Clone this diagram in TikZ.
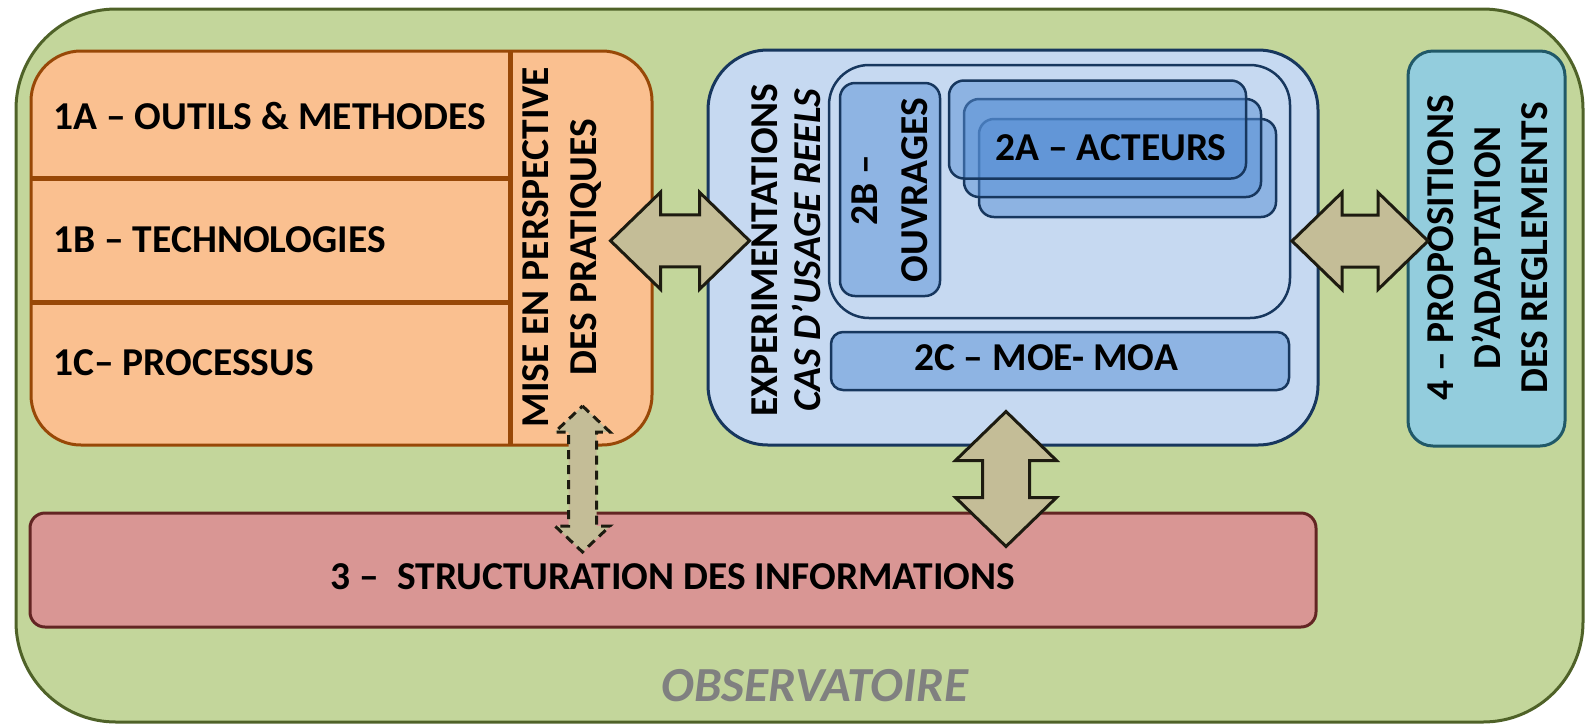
\documentclass[tikz,border=0pt]{standalone}
\usepackage{fontspec}
\setmainfont{Carlito}
\definecolor{obsg}{HTML}{C3D69B}
\definecolor{obsd}{HTML}{4F6228}
\definecolor{prat}{HTML}{FAC090}
\definecolor{pratd}{HTML}{984807}
\definecolor{expl}{HTML}{C6D9F1}
\definecolor{expd}{HTML}{17375E}
\definecolor{subb}{HTML}{8EB4E3}
\definecolor{actb}{HTML}{558ED5}
\definecolor{prop}{HTML}{93CDDD}
\definecolor{propd}{HTML}{215968}
\definecolor{info}{HTML}{D99694}
\definecolor{infod}{HTML}{632523}
\definecolor{arr}{HTML}{C4BD97}
\definecolor{arrd}{HTML}{1D1B10}
\usetikzlibrary{calc}

\begin{document}
\begin{tikzpicture}[x=1pt,y=-1pt,
	every node/.style={font=\fontsize{39.5}{48}\selectfont\bfseries, inner sep=0pt},
	box/.style={draw, line width=3pt, rounded corners=#1},
	subbox/.style={draw=expd, line width=2.5pt, fill=subb, rounded corners=#1},
	actbox/.style={draw=expd, line width=2.5pt, fill=actb, fill opacity=0.5, draw opacity=1,
		rounded corners=15pt, minimum width=297pt, minimum height=98pt},
	blockarrow/.style={draw=arrd, fill=arr, line width=3pt}]

		\useasboundingbox (0,0) rectangle (1585,724);

		% Observatoire frame
		\node[box=100pt, draw=obsd, fill=obsg, minimum width=1567pt, minimum height=713pt] (obs) at (799.5,365.5) {};
		\node[font=\fontsize{49}{56}\selectfont\bfseries\itshape, text=black!50] (obst) at (815,686) {OBSERVATOIRE};

		% Practices block
		\node[box=50pt, draw=pratd, fill=prat, minimum width=621pt, minimum height=394pt] (prat) at (341.5,248) {};
		\draw[line width=5pt, pratd] (510,51) -- (510,445);
		\draw[line width=5pt, pratd] (31,178) -- (510,178);
		\draw[line width=5pt, pratd] (31,302) -- (510,302);
		\node[anchor=west] (p1) at (53,116) {1A -- OUTILS \& METHODES};
		\node[anchor=west] (p2) at (53,240) {1B -- TECHNOLOGIES};
		\node[anchor=west] (p3) at (53,363) {1C-- PROCESSUS};
		\node[rotate=90, align=center] (pm) at (562,247) {MISE EN PERSPECTIVE\\DES PRATIQUES};

		% Experimentations block
		\node[box=60pt, draw=expd, fill=expl, minimum width=610pt, minimum height=395pt] (exp) at (1013,247.5) {};
		\node[rotate=90, align=center, font=\fontsize{39.5}{43}\selectfont] (expt) at (786,250)
			{\textbf{EXPERIMENTATIONS}\\\textit{\textbf{CAS D’USAGE REELS}}};
		\node[box=40pt, draw=expd, line width=2.5pt, minimum width=461pt, minimum height=253pt] (cas) at (1059.5,191.5) {};
		\node[subbox=15pt, minimum width=100pt, minimum height=213pt] (ouv) at (890,189.5) {};
		\node[rotate=90, align=center, font=\fontsize{39.5}{50}\selectfont\bfseries] (ouvt) at (890,190) {2B --\\OUVRAGES};
		\node[actbox] (act3) at (1127.5,168) {};
		\node[actbox] (act2) at (1112.5,148) {};
		\node[actbox] (act1) at (1097.5,129.5) {};
		\node (actt) at (1111,148) {2A -- ACTEURS};
		\node[subbox=12pt, minimum width=458pt, minimum height=58pt] (moe) at (1060,361) {};
		\node (moet) at (1046,358) {2C -- MOE- MOA};

		% Proposals block
		\node[box=25pt, draw=propd, fill=prop, minimum width=157pt, minimum height=395pt] (prop) at (1486.5,248.5) {};
		\node[rotate=90, align=center, font=\fontsize{39.5}{47}\selectfont\bfseries] (propt) at (1488,248)
			{4 -- PROPOSITIONS\\D’ADAPTATION\\DES REGLEMENTS};

		% Information block
		\node[box=15pt, draw=infod, fill=info, minimum width=1286pt, minimum height=114pt] (info) at (673,570) {};
		\node (infot) at (673,577) {3 --~~STRUCTURATION DES INFORMATIONS};

		% Arrow anchors
		\coordinate (a1) at ($(prat.east)!0.5!(exp.west)+(0,-7)$);
		\coordinate (a2) at ($(exp.east)!0.5!(prop.west)+(-3,-7)$);
		\coordinate (a3) at ($(exp.south)!0.5!(exp.south |- info.north)+(-7,0)$);
		\coordinate (a4) at ($(prat.south east)!0.5!(prat.south east |- info.north)+(-71,0)$);

		% Practices <-> experimentations
		\draw[blockarrow, shift={(a1)}] (-69.5,0) -- (-19.5,-48.5) -- (-19.5,-26) -- (19.5,-26) -- (19.5,-48.5)
			-- (69.5,0) -- (19.5,48.5) -- (19.5,26) -- (-19.5,26) -- (-19.5,48.5) -- cycle;
		% Experimentations <-> proposals
		\draw[blockarrow, shift={(a2)}] (-68,0) -- (-18,-48.5) -- (-18,-26) -- (18,-26) -- (18,-48.5)
			-- (68,0) -- (18,48.5) -- (18,26) -- (-18,26) -- (-18,48.5) -- cycle;
		% Experimentations <-> information
		\draw[blockarrow, shift={(a3)}] (0,-67.5) -- (50.5,-18.5) -- (23.5,-18.5) -- (23.5,18.5) -- (50.5,18.5)
			-- (0,67.5) -- (-50.5,18.5) -- (-23.5,18.5) -- (-23.5,-18.5) -- (-50.5,-18.5) -- cycle;
		% Practices <-> information (dashed)
		\draw[blockarrow, dash pattern=on 9pt off 6pt, shift={(a4)}] (0,-73) -- (27.5,-47) -- (14,-47) -- (14,47) -- (27.5,47)
			-- (0,73) -- (-27.5,47) -- (-14,47) -- (-14,-47) -- (-27.5,-47) -- cycle;

	\end{tikzpicture}
\end{document}
